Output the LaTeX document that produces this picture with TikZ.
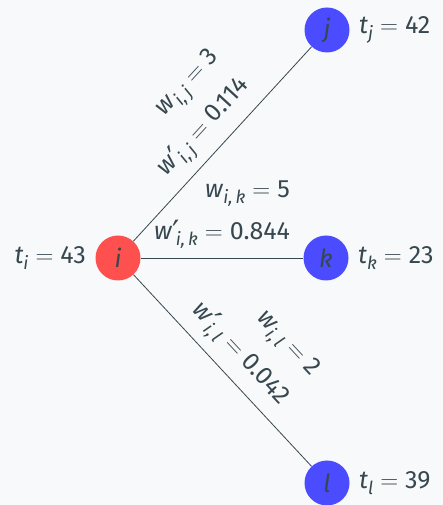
\documentclass[tikz,border=0pt]{standalone}
\usepackage{fontspec}
\setmainfont{Fira Sans}
\newfontfamily\symf{DejaVu Sans}
\usetikzlibrary{positioning}
\definecolor{bg}{HTML}{F8F9FA}
\definecolor{ink}{HTML}{37474F}
\definecolor{nred}{HTML}{FF5050}
\definecolor{nblue}{HTML}{4B4BFF}
\newcommand\vv[1]{\textit{#1}}
\newcommand\lsub[1]{\raisebox{-0.45ex}{\fontsize{18}{18}\selectfont\itshape #1}}
\newcommand\pr{\raisebox{-4pt}{\symf\fontsize{32}{32}\selectfont ′}\hspace{-0.15em}}
\newcommand\eq{\hspace{0.28em}$=$\hspace{0.28em}}
\begin{document}
\begin{tikzpicture}[x=1pt,y=1pt,
  every node/.style={text=ink, font=\fontsize{25}{42}\selectfont},
  vert/.style={circle, minimum size=45pt, inner sep=0pt},
  edge/.style={draw=ink, line width=0.8pt},
  wlab/.style={sloped, above, align=right, inner xsep=3pt, inner ysep=9pt}]
\fill[bg] (0,0) rectangle (443,505);
\useasboundingbox (0,0) rectangle (443,505);
\node[vert, fill=nred] (i) at (118,247) {\vv{i}};
\node[vert, fill=nblue] (j) at (327,475) {\vv{j}};
\node[vert, fill=nblue] (k) at (326,247) {\vv{k}};
\node[vert, fill=nblue] (l) at (327,22) {\vv{l}};
\node[left=6pt of i] (ti) {\vv{t}\lsub{i}\eq 43};
\node[right=6pt of j] (tj) {\vv{t}\lsub{j}\eq 42};
\node[right=6pt of k] (tk) {\vv{t}\lsub{k}\eq 23};
\node[right=6pt of l] (tl) {\vv{t}\lsub{l}\eq 39};
\draw[edge] (i) -- node[wlab] {\vv{w}\lsub{i,\,j}\eq 3\\\vv{w}\pr\lsub{i,\,j}\eq 0.114} (j);
\draw[edge] (i) -- node[wlab] {\vv{w}\lsub{i,\,k}\eq 5\\\vv{w}\pr\lsub{i,\,k}\eq 0.844} (k);
\draw[edge] (i) -- node[wlab] {\vv{w}\lsub{i,\,l}\eq 2\\\vv{w}\pr\lsub{i,\,l}\eq 0.042} (l);
\end{tikzpicture}
\end{document}
